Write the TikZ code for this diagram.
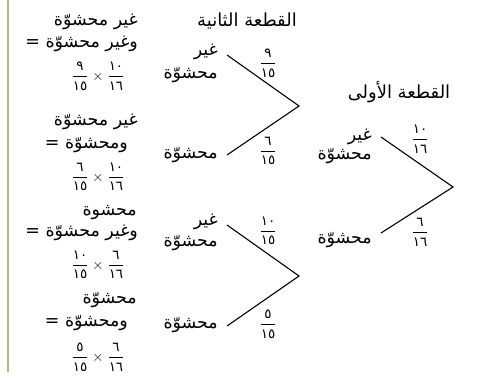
\documentclass[tikz,border=0pt]{standalone}
\usepackage{fontspec}
\newfontfamily\arabicfont[Script=Arabic]{DejaVu Sans}
\TeXXeTstate=1
\definecolor{olivebar}{RGB}{172,188,112}
\newcommand\afr[2]{$\displaystyle\frac{\hbox{\arabicfont #1}}{\hbox{\arabicfont #2}}$}
\newcommand\tms{\hspace{4pt}$\times$\hspace{4pt}}
\begin{document}
\begin{tikzpicture}[x=1bp,y=-1bp,
  ar/.style={font={\arabicfont\fontsize{17.5}{19}\selectfont}, inner sep=0pt},
  ttl/.style={font={\arabicfont\fontsize{18}{20}\selectfont}, inner sep=0pt},
  fr/.style={font={\fontsize{13.5}{14}\selectfont}, inner sep=0pt},
  br/.style={line width=1.1pt, line join=miter}]
\useasboundingbox (0,0) rectangle (482,377);
% left bar
\coordinate (bt) at (8,0);
\coordinate (bb) at (8,372);
\draw[olivebar, line width=1.4pt] (bt) -- (bb);
% titles
\node[ttl] (title2) at (247,21) {\beginR القطعة الثانية\endR};
\node[ttl] (title1) at (399,92) {\beginR القطعة الأولى\endR};
% first stage
\coordinate (r) at (453,187);
\coordinate (a1) at (381,137);
\coordinate (a2) at (381,233);
\draw[br] (a1) -- (r) -- (a2);
\node[fr] (f1) at (420,139) {\afr{١٠}{١٦}};
\node[fr] (f2) at (420,232) {\afr{٦}{١٦}};
\node[ar, anchor=east] (n1a) at (372,137) {\beginR غير\endR};
\node[ar, anchor=east] (n1b) at (372,156) {\beginR محشوّة\endR};
\node[ar, anchor=east] (n2) at (372,240) {\beginR محشوّة\endR};
% second stage upper
\coordinate (u) at (299,106);
\coordinate (u1) at (227,55);
\coordinate (u2) at (227,155);
\draw[br] (u1) -- (u) -- (u2);
\node[fr] (g1) at (268,63) {\afr{٩}{١٥}};
\node[fr] (g2) at (268,151) {\afr{٦}{١٥}};
\node[ar, anchor=east] (m1a) at (218,52) {\beginR غير\endR};
\node[ar, anchor=east] (m1b) at (218,75) {\beginR محشوّة\endR};
\node[ar, anchor=east] (m2) at (218,155) {\beginR محشوّة\endR};
% second stage lower
\coordinate (l) at (299,276);
\coordinate (l1) at (227,225);
\coordinate (l2) at (227,326);
\draw[br] (l1) -- (l) -- (l2);
\node[fr] (h1) at (268,231) {\afr{١٠}{١٥}};
\node[fr] (h2) at (268,324) {\afr{٥}{١٥}};
\node[ar, anchor=east] (k1a) at (218,222) {\beginR غير\endR};
\node[ar, anchor=east] (k1b) at (218,243) {\beginR محشوّة\endR};
\node[ar, anchor=east] (k2) at (218,325) {\beginR محشوّة\endR};
% outcomes
\node[ar, anchor=east] (o1a) at (138,22) {\beginR غير محشوّة\endR};
\node[ar, anchor=east] (o1b) at (138,44) {\beginR وغير محشوّة =\endR};
\node[fr] (o1c) at (98,76) {\afr{٩}{١٥}\tms\afr{١٠}{١٦}};
\node[ar, anchor=east] (o2a) at (138,122) {\beginR غير محشوّة\endR};
\node[ar, anchor=east] (o2b) at (128,145) {\beginR ومحشوّة =\endR};
\node[fr] (o2c) at (98,177) {\afr{٦}{١٥}\tms\afr{١٠}{١٦}};
\node[ar, anchor=east] (o3a) at (137,213) {\beginR محشوة\endR};
\node[ar, anchor=east] (o3b) at (138,233) {\beginR وغير محشوّة =\endR};
\node[fr] (o3c) at (98,265) {\afr{١٠}{١٥}\tms\afr{٦}{١٦}};
\node[ar, anchor=east] (o4a) at (137,300) {\beginR محشوّة\endR};
\node[ar, anchor=east] (o4b) at (128,323) {\beginR ومحشوّة =\endR};
\node[fr] (o4c) at (98,357) {\afr{٥}{١٥}\tms\afr{٦}{١٦}};
\end{tikzpicture}
\end{document}
